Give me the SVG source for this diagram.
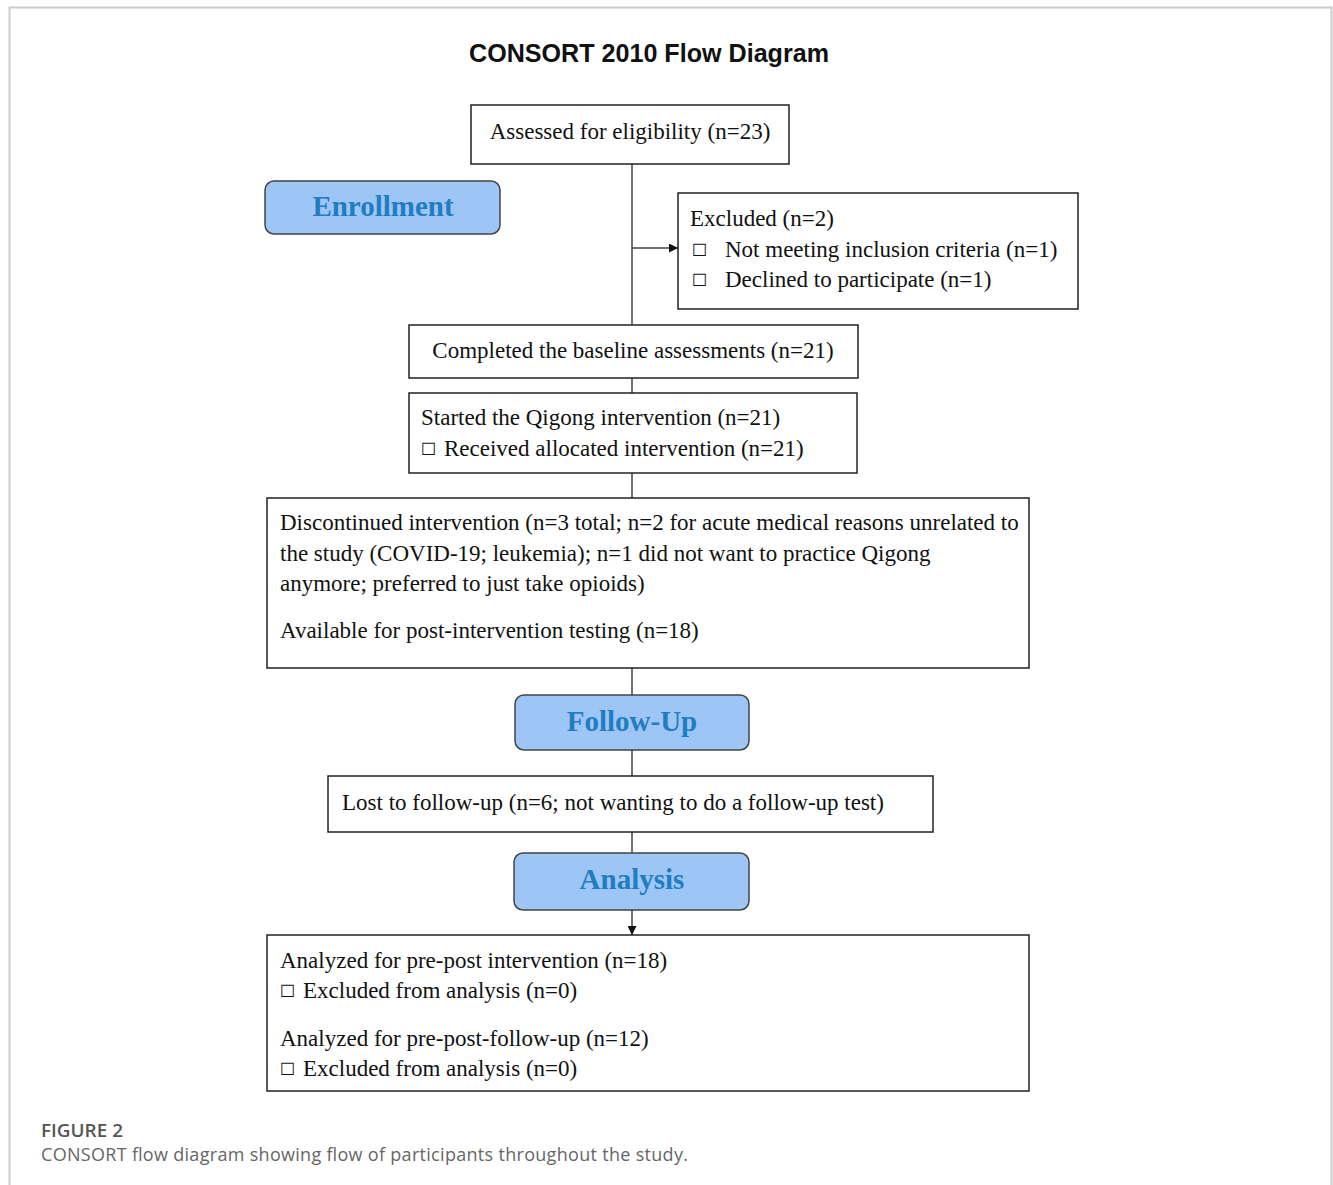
<svg xmlns="http://www.w3.org/2000/svg" width="1333" height="1185" viewBox="0 0 1333 1185">
<defs>
<style>
.box{fill:#fff;stroke:#222;stroke-width:1.5}
.stage{fill:#9dc6f7;stroke:#444;stroke-width:1.5}
.t{font-family:"Liberation Serif","Times New Roman",serif;font-size:23px;fill:#111}
.st{font-family:"Liberation Serif","Times New Roman",serif;font-size:29px;font-weight:bold;fill:#1f7dc0;text-anchor:middle}
.c{stroke:#444;stroke-width:1.5;fill:none}
.cb{font-family:"DejaVu Sans",sans-serif;font-size:17px;fill:#111}
</style>
<marker id="ah" viewBox="0 0 10 10" refX="10" refY="5" markerWidth="9" markerHeight="9" orient="auto" markerUnits="userSpaceOnUse">
<path d="M0,0 L10,5 L0,10 z" fill="#111"/>
</marker>
</defs>
<rect x="0" y="0" width="1333" height="1185" fill="#fff"/>
<path d="M9.5,1185 V7.5 H1331.5 V1185" fill="none" stroke="#ccc" stroke-width="2"/>
<text x="649" y="62" font-family="Liberation Sans Narrow,Liberation Sans,sans-serif" font-weight="bold" font-size="26" text-anchor="middle" textLength="360" lengthAdjust="spacingAndGlyphs" fill="#111">CONSORT 2010 Flow Diagram</text>

<g id="connectors">
<line class="c" x1="632" y1="164" x2="632" y2="325"/>
<line class="c" x1="632" y1="248" x2="678" y2="248" marker-end="url(#ah)"/>
<line class="c" x1="632" y1="378" x2="632" y2="393"/>
<line class="c" x1="632" y1="473" x2="632" y2="498"/>
<line class="c" x1="632" y1="668" x2="632" y2="695"/>
<line class="c" x1="632" y1="750" x2="632" y2="776"/>
<line class="c" x1="632" y1="832" x2="632" y2="853"/>
<line class="c" x1="632" y1="910" x2="632" y2="935" marker-end="url(#ah)"/>
</g>

<g id="assessed">
<rect class="box" x="471" y="105" width="318" height="59"/>
<text class="t" x="630" y="139" text-anchor="middle">Assessed for eligibility (n=23)</text>
</g>

<g id="enrollment">
<rect class="stage" x="265" y="181" width="235" height="53" rx="9"/>
<text class="st" x="383" y="216">Enrollment</text>
</g>

<g id="excluded">
<rect class="box" x="678" y="193" width="400" height="116"/>
<text class="t" x="690" y="226">Excluded (n=2)</text>
<text class="cb" x="692" y="256">☐</text>
<text class="t" x="725" y="257">Not meeting inclusion criteria (n=1)</text>
<text class="cb" x="692" y="286">☐</text>
<text class="t" x="725" y="287">Declined to participate (n=1)</text>
</g>

<g id="baseline">
<rect class="box" x="409" y="325" width="449" height="53"/>
<text class="t" x="633" y="358" text-anchor="middle">Completed the baseline assessments (n=21)</text>
</g>

<g id="started">
<rect class="box" x="409" y="393" width="448" height="80"/>
<text class="t" x="421" y="425">Started the Qigong intervention (n=21)</text>
<text class="cb" x="421" y="455">☐</text>
<text class="t" x="444" y="456">Received allocated intervention (n=21)</text>
</g>

<g id="discontinued">
<rect class="box" x="267" y="498" width="762" height="170"/>
<text class="t" x="280" y="530">Discontinued intervention (n=3 total; n=2 for acute medical reasons unrelated to</text>
<text class="t" x="280" y="561">the study (COVID-19; leukemia); n=1 did not want to practice Qigong</text>
<text class="t" x="280" y="591">anymore; preferred to just take opioids)</text>
<text class="t" x="280" y="638">Available for post-intervention testing (n=18)</text>
</g>

<g id="followup">
<rect class="stage" x="515" y="695" width="234" height="55" rx="9"/>
<text class="st" x="632" y="731">Follow-Up</text>
</g>

<g id="lost">
<rect class="box" x="328" y="776" width="605" height="56"/>
<text class="t" x="342" y="810">Lost to follow-up (n=6; not wanting to do a follow-up test)</text>
</g>

<g id="analysis">
<rect class="stage" x="514" y="853" width="235" height="57" rx="9"/>
<text class="st" x="632" y="889">Analysis</text>
</g>

<g id="analyzed">
<rect class="box" x="267" y="935" width="762" height="156"/>
<text class="t" x="280" y="968">Analyzed for pre-post intervention (n=18)</text>
<text class="cb" x="280" y="997">☐</text>
<text class="t" x="303" y="998">Excluded from analysis (n=0)</text>
<text class="t" x="280" y="1046">Analyzed for pre-post-follow-up (n=12)</text>
<text class="cb" x="280" y="1075">☐</text>
<text class="t" x="303" y="1076">Excluded from analysis (n=0)</text>
</g>

<text x="41" y="1137" font-family="Open Sans,Liberation Sans,sans-serif" font-size="18" font-weight="600" fill="#555" textLength="82" lengthAdjust="spacingAndGlyphs">FIGURE 2</text>
<text x="41" y="1161" font-family="Open Sans,Liberation Sans,sans-serif" font-size="18" fill="#666" textLength="647" lengthAdjust="spacing">CONSORT flow diagram showing flow of participants throughout the study.</text>
</svg>
